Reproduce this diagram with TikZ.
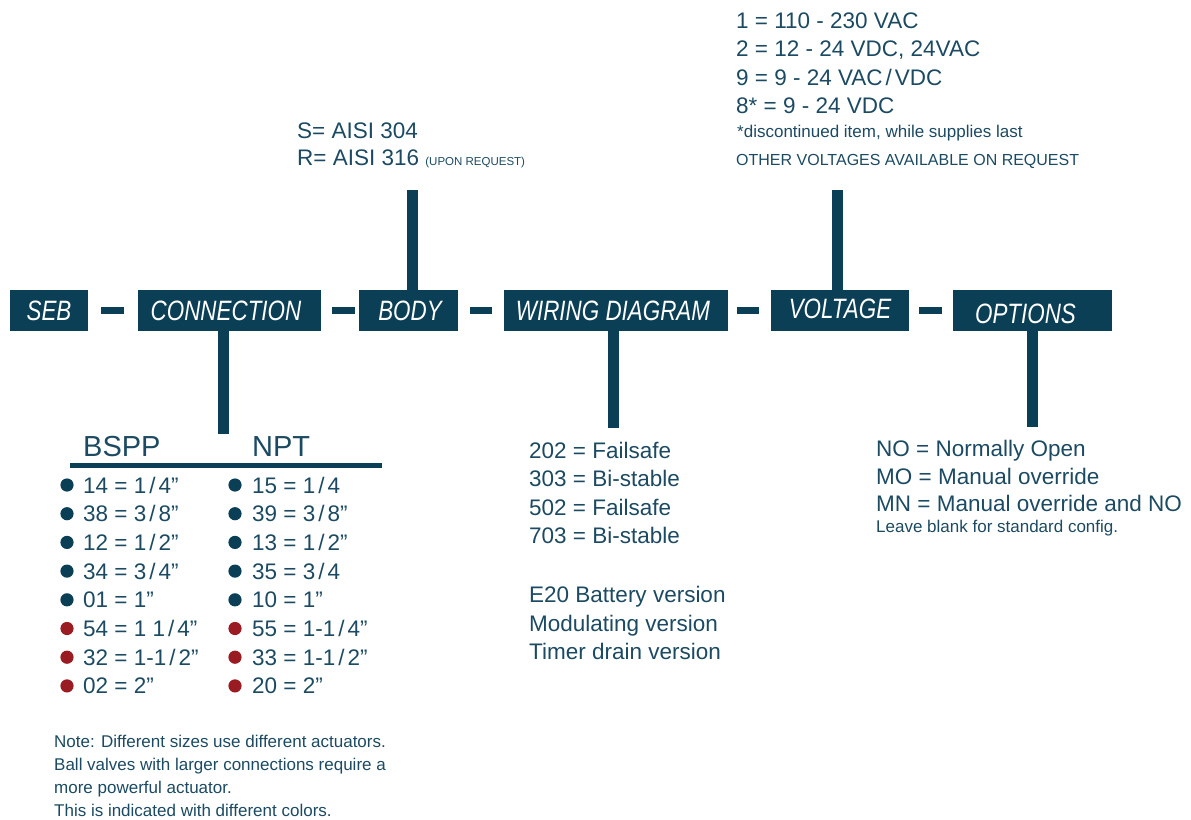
\documentclass[tikz,border=0pt]{standalone}
\usepackage{fontspec}
\setmainfont{Liberation Sans}
\newfontfamily\boxfont[FakeStretch=0.8]{Liberation Sans}
\definecolor{boxcol}{HTML}{0B3F56}
\definecolor{txtcol}{HTML}{1B4A62}
\definecolor{redcol}{HTML}{9A1C22}
\newcommand\fsl{\kern3pt/\kern3pt}
\begin{document}
\begin{tikzpicture}[x=1pt,y=-1pt,
  codebox/.style={fill=boxcol, inner sep=0pt, minimum height=41pt, text=white,
    font=\boxfont\itshape\fontsize{28}{28}\selectfont, text height=20pt, text depth=0pt},
  stem/.style={draw=boxcol, line width=11pt},
  dashline/.style={draw=boxcol, line width=7pt},
  txt/.style={anchor=base west, inner sep=0pt, text=txtcol, font=\fontsize{22.5}{27}\selectfont},
  smalltxt/.style={txt, font=\fontsize{17}{20}\selectfont},
  headtxt/.style={txt, font=\fontsize{29}{32}\selectfont}]
\useasboundingbox (0,0) rectangle (1191,819);

% code boxes
\node[codebox, minimum width=78pt]  (seb)  at (49,310.5)    {SEB};
\node[codebox, minimum width=183pt] (conn) at (229.5,310.5) {CONNECTION\hspace*{7pt}};
\node[codebox, minimum width=99pt]  (body) at (408.5,310.5) {\hspace*{3pt}BODY};
\node[codebox, minimum width=224pt] (wir)  at (616,310.5)   {WIRING DIAGRAM\hspace*{6pt}};
\node[codebox, minimum width=138pt] (volt) at (840,310.5)   {\raisebox{2pt}{VOLTAGE}};
\node[codebox, minimum width=159pt] (opt)  at (1032.5,310.5){\raisebox{-3pt}{OPTIONS}\hspace*{14pt}};

% dashes between boxes
\draw[dashline, shorten <=13pt, shorten >=14pt] (seb) -- (conn);
\draw[dashline, shorten <=11pt, shorten >=4pt]  (conn) -- (body);
\draw[dashline, shorten <=12pt, shorten >=12pt] (body) -- (wir);
\draw[dashline, shorten <=9pt,  shorten >=12pt] (wir) -- (volt);
\draw[dashline, shorten <=10pt, shorten >=11pt] (volt) -- (opt);

% stems
\coordinate (cstem) at (223.5,434);
\coordinate (bstem) at (412.5,190);
\coordinate (wstem) at (613.5,428);
\coordinate (vstem) at (837,190);
\coordinate (ostem) at (1032.5,427);
\draw[stem] (conn.south -| cstem) -- (cstem);
\draw[stem] (bstem) -- (bstem |- body.north);
\draw[stem] (wir.south -| wstem) -- (wstem);
\draw[stem] (vstem) -- (vstem |- volt.north);
\draw[stem] (opt.south -| ostem) -- (ostem);

% voltage text
\node[txt] (v1) at (736,28)    {1 = 110 - 230 VAC};
\node[txt] (v2) at (736,56.5)  {2 = 12 - 24 VDC, 24VAC};
\node[txt] (v3) at (736,85)    {9 = 9 - 24 VAC\fsl VDC};
\node[txt] (v4) at (736,113.5) {8* = 9 - 24 VDC};
\node[smalltxt] (v5) at (737,137) {*discontinued item, while supplies last};
\node[txt, font=\fontsize{16}{20}\selectfont] (v6) at (736,165) {OTHER VOLTAGES AVAILABLE ON REQUEST};

% body text
\node[txt] (b1) at (297,138) {S= AISI 304};
\node[txt] (b2) at (297,165) {R= AISI 316 {\fontsize{11.5}{12}\selectfont(UPON REQUEST)}};

% wiring text
\node[txt] (w1) at (529,458)   {202 = Failsafe};
\node[txt] (w2) at (529,486.5) {303 = Bi-stable};
\node[txt] (w3) at (529,515)   {502 = Failsafe};
\node[txt] (w4) at (529,543.5) {703 = Bi-stable};
\node[txt] (w5) at (529,602)   {E20 Battery version};
\node[txt] (w6) at (529,631)   {Modulating version};
\node[txt] (w7) at (529,659.5) {Timer drain version};

% options text
\node[txt] (o1) at (876,456)   {NO = Normally Open};
\node[txt] (o2) at (876,484)   {MO = Manual override};
\node[txt] (o3) at (876,511.5) {MN = Manual override and NO};
\node[smalltxt] (o4) at (876,532) {Leave blank for standard config.};

% connection table
\node[headtxt] (hb) at (83,456)  {BSPP};
\node[headtxt] (hn) at (252,456) {NPT};
\coordinate (rl) at (70,465.5);
\coordinate (rr) at (382,465.5);
\draw[boxcol, line width=5pt] (rl) -- (rr);
\foreach \i/\a/\b/\c in {1/14 = 1\fsl4”/15 = 1\fsl4/boxcol,
                         2/38 = 3\fsl8”/39 = 3\fsl8”/boxcol,
                         3/12 = 1\fsl2”/13 = 1\fsl2”/boxcol,
                         4/34 = 3\fsl4”/35 = 3\fsl4/boxcol,
                         5/01 = 1”/10 = 1”/boxcol,
                         6/54 = 1 1\fsl4”/55 = 1-1\fsl4”/redcol,
                         7/32 = 1-1\fsl2”/33 = 1-1\fsl2”/redcol,
                         8/02 = 2”/20 = 2”/redcol}{
  \pgfmathsetmacro\yy{493+(\i-1)*28.7}
  \fill[\c] (67,\yy-8) circle[radius=6.6pt];
  \fill[\c] (235,\yy-8) circle[radius=6.6pt];
  \node[txt] (ta\i) at (83,\yy) {\a};
  \node[txt] (tb\i) at (252,\yy) {\b};
}

% note
\node[smalltxt] (n1) at (54,747) {Note: Different sizes use different actuators.};
\node[smalltxt] (n2) at (54,770) {Ball valves with larger connections require a};
\node[smalltxt] (n3) at (54,793) {more powerful actuator.};
\node[smalltxt] (n4) at (54,816) {This is indicated with different colors.};
\end{tikzpicture}
\end{document}
